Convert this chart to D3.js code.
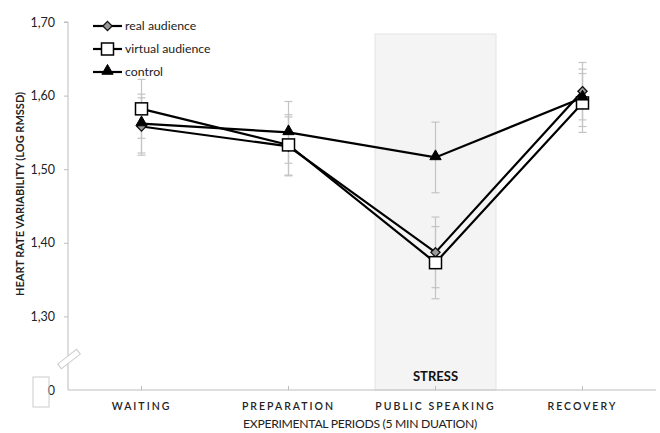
<!DOCTYPE html>
<html>
<head>
<meta charset="utf-8">
<script src="https://cdn.jsdelivr.net/npm/d3@7"></script>
<style>
  html, body { margin: 0; padding: 0; background: #fff; }
  svg { display: block; }
</style>
</head>
<body>
<svg id="chart" width="660" height="433"></svg>
<script>
// Experimental periods (x categories)
const periods = ["WAITING", "PREPARATION", "PUBLIC SPEAKING", "RECOVERY"];

// Mean log RMSSD per period
const realAudience    = [1.558, 1.531, 1.387, 1.606];
const virtualAudience = [1.582, 1.533, 1.373, 1.590];
const control         = [1.562, 1.550, 1.516, 1.597];

// Error bar half-widths
const realErr    = [0.039, 0.040, 0.048, 0.039];
const virtualErr = [0.040, 0.041, 0.049, 0.040];
const controlErr = [0.040, 0.042, 0.048, 0.039];

// Y-axis ticks (the bottom tick stands for the broken axis origin)
const yTicks = [1.2, 1.3, 1.4, 1.5, 1.6, 1.7];
const yTickLabels = ["0", "1,30", "1,40", "1,50", "1,60", "1,70"];

const seriesNames = ["real audience", "virtual audience", "control"];
const highlightPeriod = "PUBLIC SPEAKING";
const highlightLabel = "STRESS";

const series = [
  { name: seriesNames[0], values: realAudience, err: realErr, marker: "diamond" },
  { name: seriesNames[1], values: virtualAudience, err: virtualErr, marker: "square" },
  { name: seriesNames[2], values: control, err: controlErr, marker: "triangle" }
];

const svg = d3.select("#chart");
const font = "Lato, 'Open Sans', sans-serif";
const axisGrey = "#bdbdbd";

const x = d3.scaleBand().domain(periods).range([68, 656]);
const y = d3.scaleLinear().domain([1.2, 1.7]).range([390, 22]);
const cx = d => x(d) + x.bandwidth() / 2;

// Shaded stress period
const hb = x(highlightPeriod);
svg.append("rect")
  .attr("x", hb + 13).attr("y", 34)
  .attr("width", x.bandwidth() - 26).attr("height", y(1.2) - 34)
  .attr("fill", "#f4f4f4").attr("stroke", "#e4e4e4").attr("stroke-width", 1);
svg.append("text")
  .attr("x", cx(highlightPeriod)).attr("y", 381)
  .attr("text-anchor", "middle")
  .attr("font-family", font).attr("font-weight", "bold").attr("font-size", 13)
  .attr("fill", "#111").text(highlightLabel);

// Y axis
const yAxis = d3.axisLeft(y).tickValues(yTicks)
  .tickFormat((d, i) => yTickLabels[i]).tickSize(4).tickPadding(9);
const gy = svg.append("g").attr("transform", "translate(68,0)").call(yAxis);
gy.select(".domain").attr("stroke", axisGrey).attr("d", `M-4,${y(1.7)}H0V${y(1.2)}`);
gy.selectAll(".tick line").attr("stroke", axisGrey);
gy.selectAll(".tick text").attr("font-family", font).attr("font-size", 12.5).attr("fill", "#222");
gy.selectAll(".tick").filter(d => d === 1.2).select("line").remove();

// Box around the origin label
svg.append("rect").attr("x", 33).attr("y", 377).attr("width", 16).attr("height", 30)
  .attr("fill", "none").attr("stroke", "#ccc").attr("stroke-width", 1);

// Axis break symbol
svg.append("g").attr("transform", "translate(69,359) rotate(-38)")
  .append("rect").attr("x", -12).attr("y", -3).attr("width", 24).attr("height", 6)
  .attr("fill", "#fff").attr("stroke", "#ccc").attr("stroke-width", 1);

// X axis
const xAxis = d3.axisBottom(x).tickSize(0).tickPadding(12);
const gx = svg.append("g").attr("transform", `translate(0,${y(1.2)})`).call(xAxis);
gx.select(".domain").attr("stroke", axisGrey).attr("d", `M68,0H656`);
gx.selectAll(".tick text")
  .attr("font-family", font).attr("font-size", 10.5).attr("fill", "#222")
  .attr("letter-spacing", "2px").attr("font-weight", 600).attr("dy", "0.75em");
gx.selectAll(".tick").append("line").attr("y2", -4).attr("stroke", axisGrey);

// Axis titles
svg.append("text")
  .attr("x", 360).attr("y", 428).attr("text-anchor", "middle")
  .attr("font-family", font).attr("font-size", 12.2).attr("fill", "#222")
  .attr("letter-spacing", "-0.3px")
  .text("EXPERIMENTAL PERIODS (5 MIN DUATION)");
svg.append("text")
  .attr("transform", "translate(24,194) rotate(-90)").attr("text-anchor", "middle")
  .attr("font-family", font).attr("font-size", 11).attr("font-weight", "bold")
  .attr("fill", "#222").text("HEART RATE VARIABILITY (LOG RMSSD)");

// Error bars
const errG = svg.append("g");
series.forEach(s => {
  s.values.forEach((v, i) => {
    const px = cx(periods[i]);
    const top = y(v + s.err[i]), bot = y(v - s.err[i]);
    errG.append("line").attr("x1", px).attr("x2", px).attr("y1", top).attr("y2", bot)
      .attr("stroke", "#c4c4c4").attr("stroke-width", 1.2);
    [top, bot].forEach(yy => errG.append("line")
      .attr("x1", px - 4).attr("x2", px + 4).attr("y1", yy).attr("y2", yy)
      .attr("stroke", "#c4c4c4").attr("stroke-width", 1.2));
  });
});

// Lines
const line = d3.line().x((d, i) => cx(periods[i])).y(d => y(d));
series.forEach(s => {
  svg.append("path").datum(s.values).attr("d", line)
    .attr("fill", "none").attr("stroke", "#000").attr("stroke-width", 2.2);
});

// Markers
function drawMarker(g, type, px, py) {
  if (type === "diamond") {
    const r = 4.6;
    g.append("path").attr("d", `M0,${-r}L${r},0L0,${r}L${-r},0Z`)
      .attr("transform", `translate(${px},${py})`)
      .attr("fill", "#999").attr("stroke", "#111").attr("stroke-width", 1.3);
  } else if (type === "square") {
    g.append("rect").attr("x", px - 6).attr("y", py - 6).attr("width", 12).attr("height", 12)
      .attr("fill", "#fff").attr("stroke", "#000").attr("stroke-width", 1.5);
  } else {
    g.append("path").attr("d", d3.symbol(d3.symbolTriangle, 55)())
      .attr("transform", `translate(${px},${py - 1})`)
      .attr("fill", "#000").attr("stroke", "#000").attr("stroke-width", 1);
  }
}
const markG = svg.append("g");
series.forEach(s => s.values.forEach((v, i) => drawMarker(markG, s.marker, cx(periods[i]), y(v))));

// Legend
const legend = svg.append("g");
series.forEach((s, i) => {
  const ly = 26 + i * 23;
  legend.append("line").attr("x1", 93).attr("x2", 122).attr("y1", ly).attr("y2", ly)
    .attr("stroke", "#000").attr("stroke-width", 2.2);
  drawMarker(legend, s.marker, 107.5, ly);
  legend.append("text").attr("x", 125).attr("y", ly + 4)
    .attr("font-family", font).attr("font-size", 12.3).attr("fill", "#222").text(s.name);
});
</script>
</body>
</html>
